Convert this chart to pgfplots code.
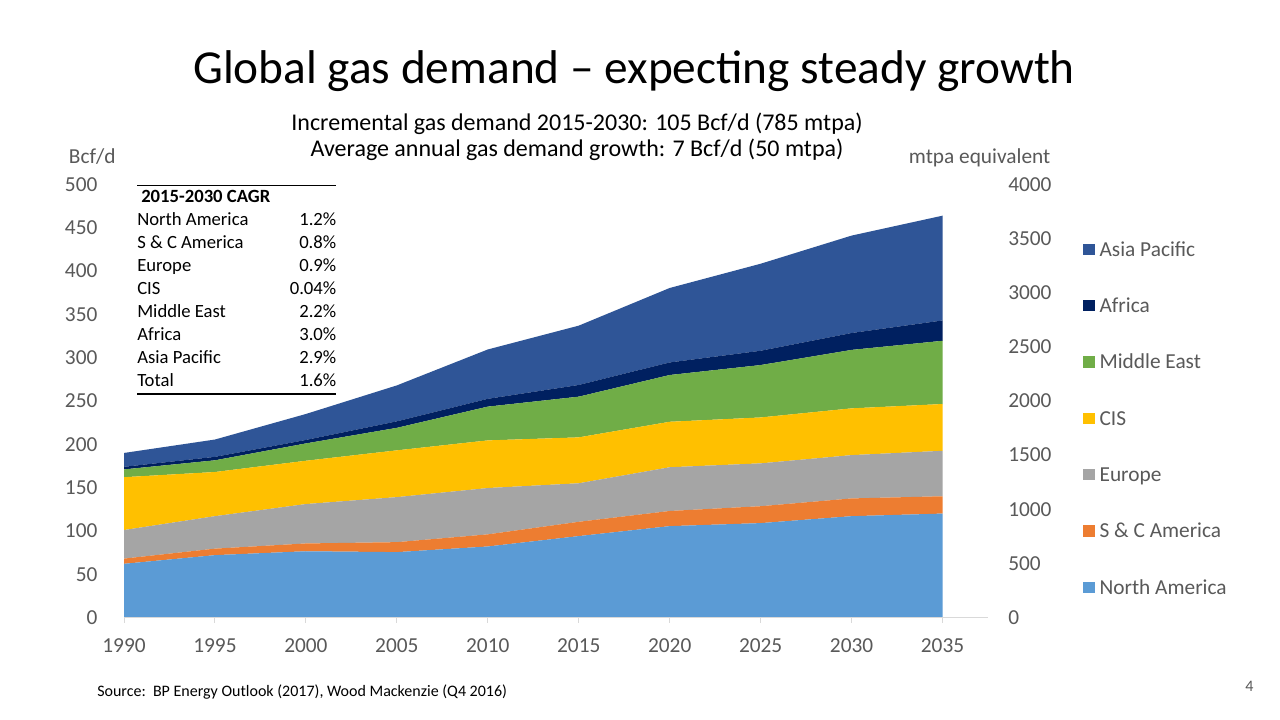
\documentclass[border=0pt]{standalone}
\usepackage{fontspec}
\setmainfont{Carlito}
\usepackage{pgfplots}
\pgfplotsset{compat=1.18}
\usepackage{pgfplotstable}
\usepackage{booktabs}
\definecolor{cNA}{HTML}{5B9BD5}
\definecolor{cSCA}{HTML}{ED7D31}
\definecolor{cEU}{HTML}{A5A5A5}
\definecolor{cCIS}{HTML}{FFC000}
\definecolor{cME}{HTML}{70AD47}
\definecolor{cAF}{HTML}{002060}
\definecolor{cAP}{HTML}{2F5597}
\definecolor{tgray}{HTML}{595959}
\definecolor{agray}{HTML}{D9D9D9}

\pgfplotstableread{
year NA SCA EU CIS ME AF AP
1990 62 6 33 61 9 3 16
1995 72 7.5 37.5 51 13.5 4 20
2000 76.5 9 45.5 50 20 4 30
2005 75.5 11.5 52 54 26 7.5 41.5
2010 82 14 53.5 55 39 9 57
2015 94 16.5 44.5 53 47 13.5 68.5
2020 105.5 17.5 50.5 52.5 54 14.5 86
2025 109 19.5 49.5 53 60.5 16.5 100.5
2030 117 20.5 50 54 67.5 19.5 112.5
2035 120 20 52.5 54 73 23.5 121
}\gasdata

\begin{document}
\begin{tikzpicture}
\path[use as bounding box, fill=white] (0,0) rectangle (960pt,540pt);

% left axis with stacked areas
\begin{axis}[
  at={(93pt,76.875pt)}, anchor=south west,
  width=648pt, height=324.75pt, scale only axis,
  xmin=1990, xmax=2037.5, ymin=0, ymax=500,
  stack plots=y, area style,
  legend image code/.code={\fill[#1] (0pt,-3.3pt) rectangle (8.5pt,5.2pt);},
  axis x line*=bottom, axis y line*=left,
  x axis line style={draw=agray, line width=0.75pt, -},
  y axis line style={draw=none},
  xtick={1990,1995,...,2035},
  ytick={0,50,...,500},
  tick align=outside,
  x tick style={draw=agray, line width=0.75pt},
  y tick style={draw=none},
  major tick length=4pt,
  /pgf/number format/assume math mode=true,
  /pgf/number format/1000 sep={},
  tick label style={font=\fontsize{16}{19}\selectfont, text=tgray},
  xticklabel style={anchor=north, inner sep=0pt, yshift=-11.6pt},
  yticklabel style={anchor=east, inner sep=0pt, xshift=-15.75pt},
  reverse legend,
  legend cell align=left,
  legend style={at={(1.1053,0.8784)}, anchor=north west, draw=none, fill=none,
    font=\fontsize{16}{19}\selectfont, text=tgray,
    row sep=26.25pt,
    nodes={inner sep=0pt, text height=12pt, text depth=4pt},
    /tikz/every odd column/.style={column sep=3.75pt}},
  clip=false,
]
\addplot[fill=cNA, draw=none] table[x=year, y=NA]{\gasdata} \closedcycle;
\addlegendentry{North America}
\addplot[fill=cSCA, draw=none] table[x=year, y=SCA]{\gasdata} \closedcycle;
\addlegendentry{S \& C America}
\addplot[fill=cEU, draw=none] table[x=year, y=EU]{\gasdata} \closedcycle;
\addlegendentry{Europe}
\addplot[fill=cCIS, draw=none] table[x=year, y=CIS]{\gasdata} \closedcycle;
\addlegendentry{CIS}
\addplot[fill=cME, draw=none] table[x=year, y=ME]{\gasdata} \closedcycle;
\addlegendentry{Middle East}
\addplot[fill=cAF, draw=none] table[x=year, y=AF]{\gasdata} \closedcycle;
\addlegendentry{Africa}
\addplot[fill=cAP, draw=none] table[x=year, y=AP]{\gasdata} \closedcycle;
\addlegendentry{Asia Pacific}
\end{axis}

% right axis (mtpa equivalent)
\begin{axis}[
  at={(93pt,76.875pt)}, anchor=south west,
  width=648pt, height=324.75pt, scale only axis,
  xmin=1990, xmax=2037.5, ymin=0, ymax=4000,
  axis x line=none, axis y line*=right,
  y axis line style={draw=none},
  ytick={0,500,...,4000},
  y tick style={draw=none},
  major tick length=0pt,
  /pgf/number format/assume math mode=true,
  /pgf/number format/1000 sep={},
  yticklabel style={anchor=west, inner sep=0pt, xshift=15pt,
    font=\fontsize{16}{19}\selectfont, text=tgray},
]
\addplot[draw=none, forget plot] coordinates {(1990,0) (2035,0)};
\end{axis}

% titles
\node[anchor=base, font=\fontsize{35.5}{42}\selectfont, text=black] at (475.5pt,477pt)
  {Global gas demand – expecting steady growth};
\node[anchor=base, font=\fontsize{18}{22}\selectfont, text=black] at (432.75pt,441.75pt)
  {Incremental gas demand 2015-2030: 105 Bcf/d (785 mtpa)};
\node[anchor=base, font=\fontsize{18}{22}\selectfont, text=black] at (432.75pt,422.25pt)
  {Average annual gas demand growth: 7 Bcf/d (50 mtpa)};

% axis unit labels
\node[anchor=base west, inner sep=0pt, font=\fontsize{16}{19}\selectfont, text=tgray] at (51.5pt,417pt) {Bcf/d};
\node[anchor=base west, inner sep=0pt, font=\fontsize{16}{19}\selectfont, text=tgray] at (681.5pt,417pt) {mtpa equivalent};

% CAGR table
\node[anchor=north west, inner sep=0pt] at (102.75pt,401.25pt) {%
  \fontsize{14}{17.25}\selectfont
  \setlength{\aboverulesep}{0pt}\setlength{\belowrulesep}{0pt}%
  \begin{tabular*}{149.25pt}{@{}l@{\extracolsep{\fill}}r@{}}
  \specialrule{0.8pt}{0pt}{0pt}
  \hspace{3pt}\textbf{2015-2030 CAGR} & \\
  North America & 1.2\% \\
  S \& C America & 0.8\% \\
  Europe & 0.9\% \\
  CIS & 0.04\% \\
  Middle East & 2.2\% \\
  Africa & 3.0\% \\
  Asia Pacific & 2.9\% \\
  Total & 1.6\% \\
  \specialrule{1.4pt}{0pt}{0pt}
  \end{tabular*}};

% source and page number
\node[anchor=base west, inner sep=0pt, font=\fontsize{12}{14}\selectfont, text=black] at (72.75pt,17.5pt)
  {Source:\ \ BP Energy Outlook (2017), Wood Mackenzie (Q4 2016)};
\node[anchor=base west, inner sep=0pt, font=\fontsize{12}{14}\selectfont, text=tgray] at (933.75pt,21pt) {4};
\end{tikzpicture}
\end{document}
